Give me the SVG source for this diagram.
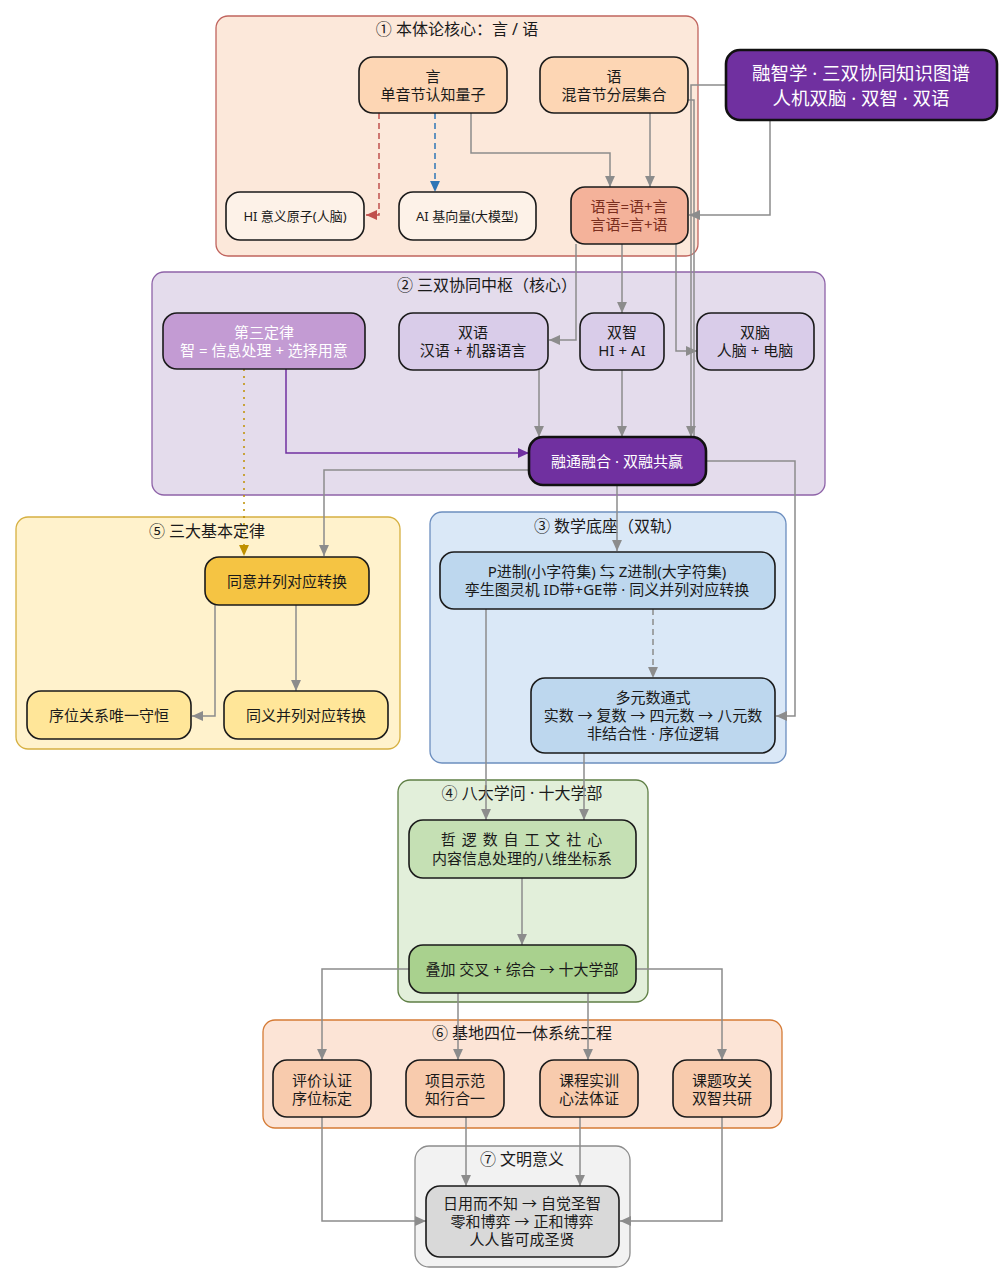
<svg xmlns="http://www.w3.org/2000/svg" width="1002" height="1284" viewBox="0 0 1002 1284">
<defs>
<style>
text{font-family:"Noto Sans","Noto Sans CJK SC",sans-serif;text-anchor:middle;dominant-baseline:central;fill:#1a1a1a}
.ct{font-size:16px}
.nt{font-size:15px}
.st{font-size:13px}
.w{fill:#ffffff}
.node{stroke:#1a1a1a;stroke-width:1.6}
.thick{stroke:#111;stroke-width:2.6}
.e{fill:none;stroke:#8c8c8c;stroke-width:1.5}
</style>
<marker id="ag" viewBox="0 0 10 10" refX="10" refY="5" markerWidth="11" markerHeight="11" markerUnits="userSpaceOnUse" orient="auto"><path d="M0,0.5 L10,5 L0,9.5 z" fill="#8c8c8c"/></marker>
<marker id="ar" viewBox="0 0 10 10" refX="10" refY="5" markerWidth="11" markerHeight="11" markerUnits="userSpaceOnUse" orient="auto"><path d="M0,0.5 L10,5 L0,9.5 z" fill="#c0504d"/></marker>
<marker id="ab" viewBox="0 0 10 10" refX="10" refY="5" markerWidth="11" markerHeight="11" markerUnits="userSpaceOnUse" orient="auto"><path d="M0,0.5 L10,5 L0,9.5 z" fill="#2e75b6"/></marker>
<marker id="ay" viewBox="0 0 10 10" refX="10" refY="5" markerWidth="11" markerHeight="11" markerUnits="userSpaceOnUse" orient="auto"><path d="M0,0.5 L10,5 L0,9.5 z" fill="#bf9000"/></marker>
<marker id="ap" viewBox="0 0 10 10" refX="10" refY="5" markerWidth="11" markerHeight="11" markerUnits="userSpaceOnUse" orient="auto"><path d="M0,0.5 L10,5 L0,9.5 z" fill="#7030a0"/></marker>
</defs>
<rect width="1002" height="1284" fill="#ffffff"/>

<!-- clusters -->
<g id="cluster1"><rect x="216" y="16" width="482" height="240" rx="12" fill="#fce8da" stroke="#c0645e" stroke-width="1.3"/><text class="ct" x="457" y="29">① 本体论核心：言 / 语</text></g>
<g id="cluster2"><rect x="152" y="272" width="673" height="223" rx="12" fill="#e4dcec" stroke="#8e63a8" stroke-width="1.3"/><text class="ct" x="487" y="285">② 三双协同中枢（核心）</text></g>
<g id="cluster5"><rect x="16" y="517" width="384" height="232" rx="12" fill="#fff2cc" stroke="#d6b041" stroke-width="1.3"/><text class="ct" x="207" y="531">⑤ 三大基本定律</text></g>
<g id="cluster3"><rect x="430" y="512" width="356" height="251" rx="12" fill="#dae8f7" stroke="#6c8ebf" stroke-width="1.3"/><text class="ct" x="608" y="526">③ 数学底座（双轨）</text></g>
<g id="cluster4"><rect x="398" y="780" width="250" height="222" rx="12" fill="#e2efda" stroke="#5f7f45" stroke-width="1.3"/><text class="ct" x="522" y="793">④ 八大学问 · 十大学部</text></g>
<g id="cluster6"><rect x="263" y="1020" width="519" height="108" rx="12" fill="#fce4d6" stroke="#d57b36" stroke-width="1.3"/><text class="ct" x="522" y="1033">⑥ 基地四位一体系统工程</text></g>
<g id="cluster7"><rect x="415" y="1146" width="215" height="121" rx="14" fill="#f2f2f2" stroke="#8c8c8c" stroke-width="1.3"/><text class="ct" x="522" y="1159">⑦ 文明意义</text></g>

<!-- connectors -->
<g id="connectors">
<path class="e" d="M379,113 V215 H366" style="stroke:#c0504d" stroke-dasharray="6,4" marker-end="url(#ar)"/>
<path class="e" d="M435,113 V192" style="stroke:#2e75b6" stroke-dasharray="6,4" marker-end="url(#ab)"/>
<path class="e" d="M471,113 V153 H610 V187" marker-end="url(#ag)"/>
<path class="e" d="M650,113 V187" marker-end="url(#ag)"/>
<path class="e" d="M770,120 V215 H689" marker-end="url(#ag)"/>
<path class="e" d="M726,85 H691 V437" marker-end="url(#ag)"/>
<path class="e" d="M688,100 H694 V437"/>
<path class="e" d="M576,244 V340 H549" marker-end="url(#ag)"/>
<path class="e" d="M622,244 V313" marker-end="url(#ag)"/>
<path class="e" d="M676,244 V351 H697" marker-end="url(#ag)"/>
<path class="e" d="M539,370 V437" marker-end="url(#ag)"/>
<path class="e" d="M622,370 V437" marker-end="url(#ag)"/>
<path class="e" d="M286,369 V453 H529" style="stroke:#7030a0" marker-end="url(#ap)"/>
<path class="e" d="M244,369 V556" style="stroke:#bf9000" stroke-dasharray="2,5" marker-end="url(#ay)"/>
<path class="e" d="M529,470 H324 V556" marker-end="url(#ag)"/>
<path class="e" d="M617,485 V551" marker-end="url(#ag)"/>
<path class="e" d="M706,461 H795 V716 H776" marker-end="url(#ag)"/>
<path class="e" d="M215,605 V716 H192" marker-end="url(#ag)"/>
<path class="e" d="M296,605 V691" marker-end="url(#ag)"/>
<path class="e" d="M653,609 V678" stroke-dasharray="6,4" marker-end="url(#ag)"/>
<path class="e" d="M486,609 V820" marker-end="url(#ag)"/>
<path class="e" d="M584,753 V820" marker-end="url(#ag)"/>
<path class="e" d="M522,878 V945" marker-end="url(#ag)"/>
<path class="e" d="M409,969 H322 V1060" marker-end="url(#ag)"/>
<path class="e" d="M458,993 V1060" marker-end="url(#ag)"/>
<path class="e" d="M588,993 V1060" marker-end="url(#ag)"/>
<path class="e" d="M636,969 H722 V1060" marker-end="url(#ag)"/>
<path class="e" d="M322,1117 V1221 H426" marker-end="url(#ag)"/>
<path class="e" d="M466,1117 V1186" marker-end="url(#ag)"/>
<path class="e" d="M580,1117 V1186" marker-end="url(#ag)"/>
<path class="e" d="M722,1117 V1221 H620" marker-end="url(#ag)"/>
</g>

<!-- nodes -->
<g id="n_yan"><rect class="node" x="359" y="57" width="148" height="56" rx="14" fill="#fdd6b4"/><text class="nt" x="433" y="76">言</text><text class="nt" x="433" y="94">单音节认知量子</text></g>
<g id="n_yu"><rect class="node" x="540" y="57" width="148" height="56" rx="14" fill="#fdd6b4"/><text class="nt" x="614" y="76">语</text><text class="nt" x="614" y="94">混音节分层集合</text></g>
<g id="n_hi"><rect class="node" x="226" y="192" width="138" height="48" rx="14" fill="#fdf2e8"/><text class="st" x="295" y="216">HI 意义原子(人脑)</text></g>
<g id="n_ai"><rect class="node" x="399" y="192" width="137" height="48" rx="14" fill="#fdf2e8"/><text class="st" x="467" y="216">AI 基向量(大模型)</text></g>
<g id="n_yuyan"><rect class="node" x="571" y="187" width="117" height="57" rx="14" fill="#f4b29a"/><text class="nt" x="629" y="206" style="fill:#7a2e1e">语言=语+言</text><text class="nt" x="629" y="224" style="fill:#7a2e1e">言语=言+语</text></g>
<g id="n_top"><rect class="thick" x="726" y="50" width="271" height="70" rx="14" fill="#7030a0"/><text class="w" x="861" y="72" font-size="18.5">融智学 · 三双协同知识图谱</text><text class="w" x="861" y="97" font-size="18.5">人机双脑 · 双智 · 双语</text></g>

<g id="n_law3"><rect class="node" x="163" y="313" width="202" height="56" rx="14" fill="#c39bd3"/><text class="nt w" x="264" y="332">第三定律</text><text class="nt w" x="264" y="350">智 = 信息处理 + 选择用意</text></g>
<g id="n_shuangyu"><rect class="node" x="399" y="313" width="149" height="57" rx="14" fill="#d9cce9"/><text class="nt" x="473" y="332">双语</text><text class="nt" x="473" y="350">汉语 + 机器语言</text></g>
<g id="n_shuangzhi"><rect class="node" x="580" y="313" width="84" height="57" rx="14" fill="#d9cce9"/><text class="nt" x="622" y="332">双智</text><text class="nt" x="622" y="350">HI + AI</text></g>
<g id="n_shuangnao"><rect class="node" x="697" y="313" width="117" height="57" rx="14" fill="#d9cce9"/><text class="nt" x="755" y="332">双脑</text><text class="nt" x="755" y="350">人脑 + 电脑</text></g>
<g id="n_rongtong"><rect class="thick" x="529" y="437" width="177" height="48" rx="14" fill="#7030a0"/><text class="nt w" x="617" y="461">融通融合 · 双融共赢</text></g>

<g id="n_tongyi"><rect class="node" x="205" y="557" width="164" height="48" rx="14" fill="#f5c443"/><text class="nt" x="287" y="581">同意并列对应转换</text></g>
<g id="n_xuwei"><rect class="node" x="27" y="691" width="164" height="48" rx="14" fill="#ffe699"/><text class="nt" x="109" y="715">序位关系唯一守恒</text></g>
<g id="n_tongyi2"><rect class="node" x="224" y="691" width="164" height="48" rx="14" fill="#ffe699"/><text class="nt" x="306" y="715">同义并列对应转换</text></g>

<g id="n_pz"><rect class="node" x="440" y="552" width="335" height="57" rx="14" fill="#bdd7ee"/><text class="nt" x="607" y="571">P进制(小字符集) ⇆ Z进制(大字符集)</text><text class="nt" x="607" y="589">孪生图灵机 ID带+GE带 · 同义并列对应转换</text></g>
<g id="n_duoyuan"><rect class="node" x="531" y="678" width="244" height="75" rx="14" fill="#bdd7ee"/><text class="nt" x="653" y="697">多元数通式</text><text class="nt" x="653" y="715">实数 → 复数 → 四元数 → 八元数</text><text class="nt" x="653" y="733">非结合性 · 序位逻辑</text></g>

<g id="n_zheluo"><rect class="node" x="409" y="820" width="227" height="58" rx="14" fill="#c5e0b4"/><text class="nt" x="522" y="839" letter-spacing="1">哲 逻 数 自 工 文 社 心</text><text class="nt" x="522" y="858">内容信息处理的八维坐标系</text></g>
<g id="n_diejia"><rect class="node" x="409" y="945" width="227" height="48" rx="14" fill="#a9d18e"/><text class="nt" x="522" y="969">叠加 交叉 + 综合 → 十大学部</text></g>

<g id="n_pingjia"><rect class="node" x="273" y="1060" width="98" height="57" rx="14" fill="#f8cbad"/><text class="nt" x="322" y="1080">评价认证</text><text class="nt" x="322" y="1098">序位标定</text></g>
<g id="n_xiangmu"><rect class="node" x="406" y="1060" width="98" height="57" rx="14" fill="#f8cbad"/><text class="nt" x="455" y="1080">项目示范</text><text class="nt" x="455" y="1098">知行合一</text></g>
<g id="n_kecheng"><rect class="node" x="540" y="1060" width="98" height="57" rx="14" fill="#f8cbad"/><text class="nt" x="589" y="1080">课程实训</text><text class="nt" x="589" y="1098">心法体证</text></g>
<g id="n_keti"><rect class="node" x="673" y="1060" width="98" height="57" rx="14" fill="#f8cbad"/><text class="nt" x="722" y="1080">课题攻关</text><text class="nt" x="722" y="1098">双智共研</text></g>

<g id="n_wenming"><rect class="node" x="426" y="1186" width="193" height="71" rx="14" fill="#d9d9d9"/><text class="nt" x="522" y="1203">日用而不知 → 自觉圣智</text><text class="nt" x="522" y="1221">零和博弈 → 正和博弈</text><text class="nt" x="522" y="1239">人人皆可成圣贤</text></g>
</svg>
